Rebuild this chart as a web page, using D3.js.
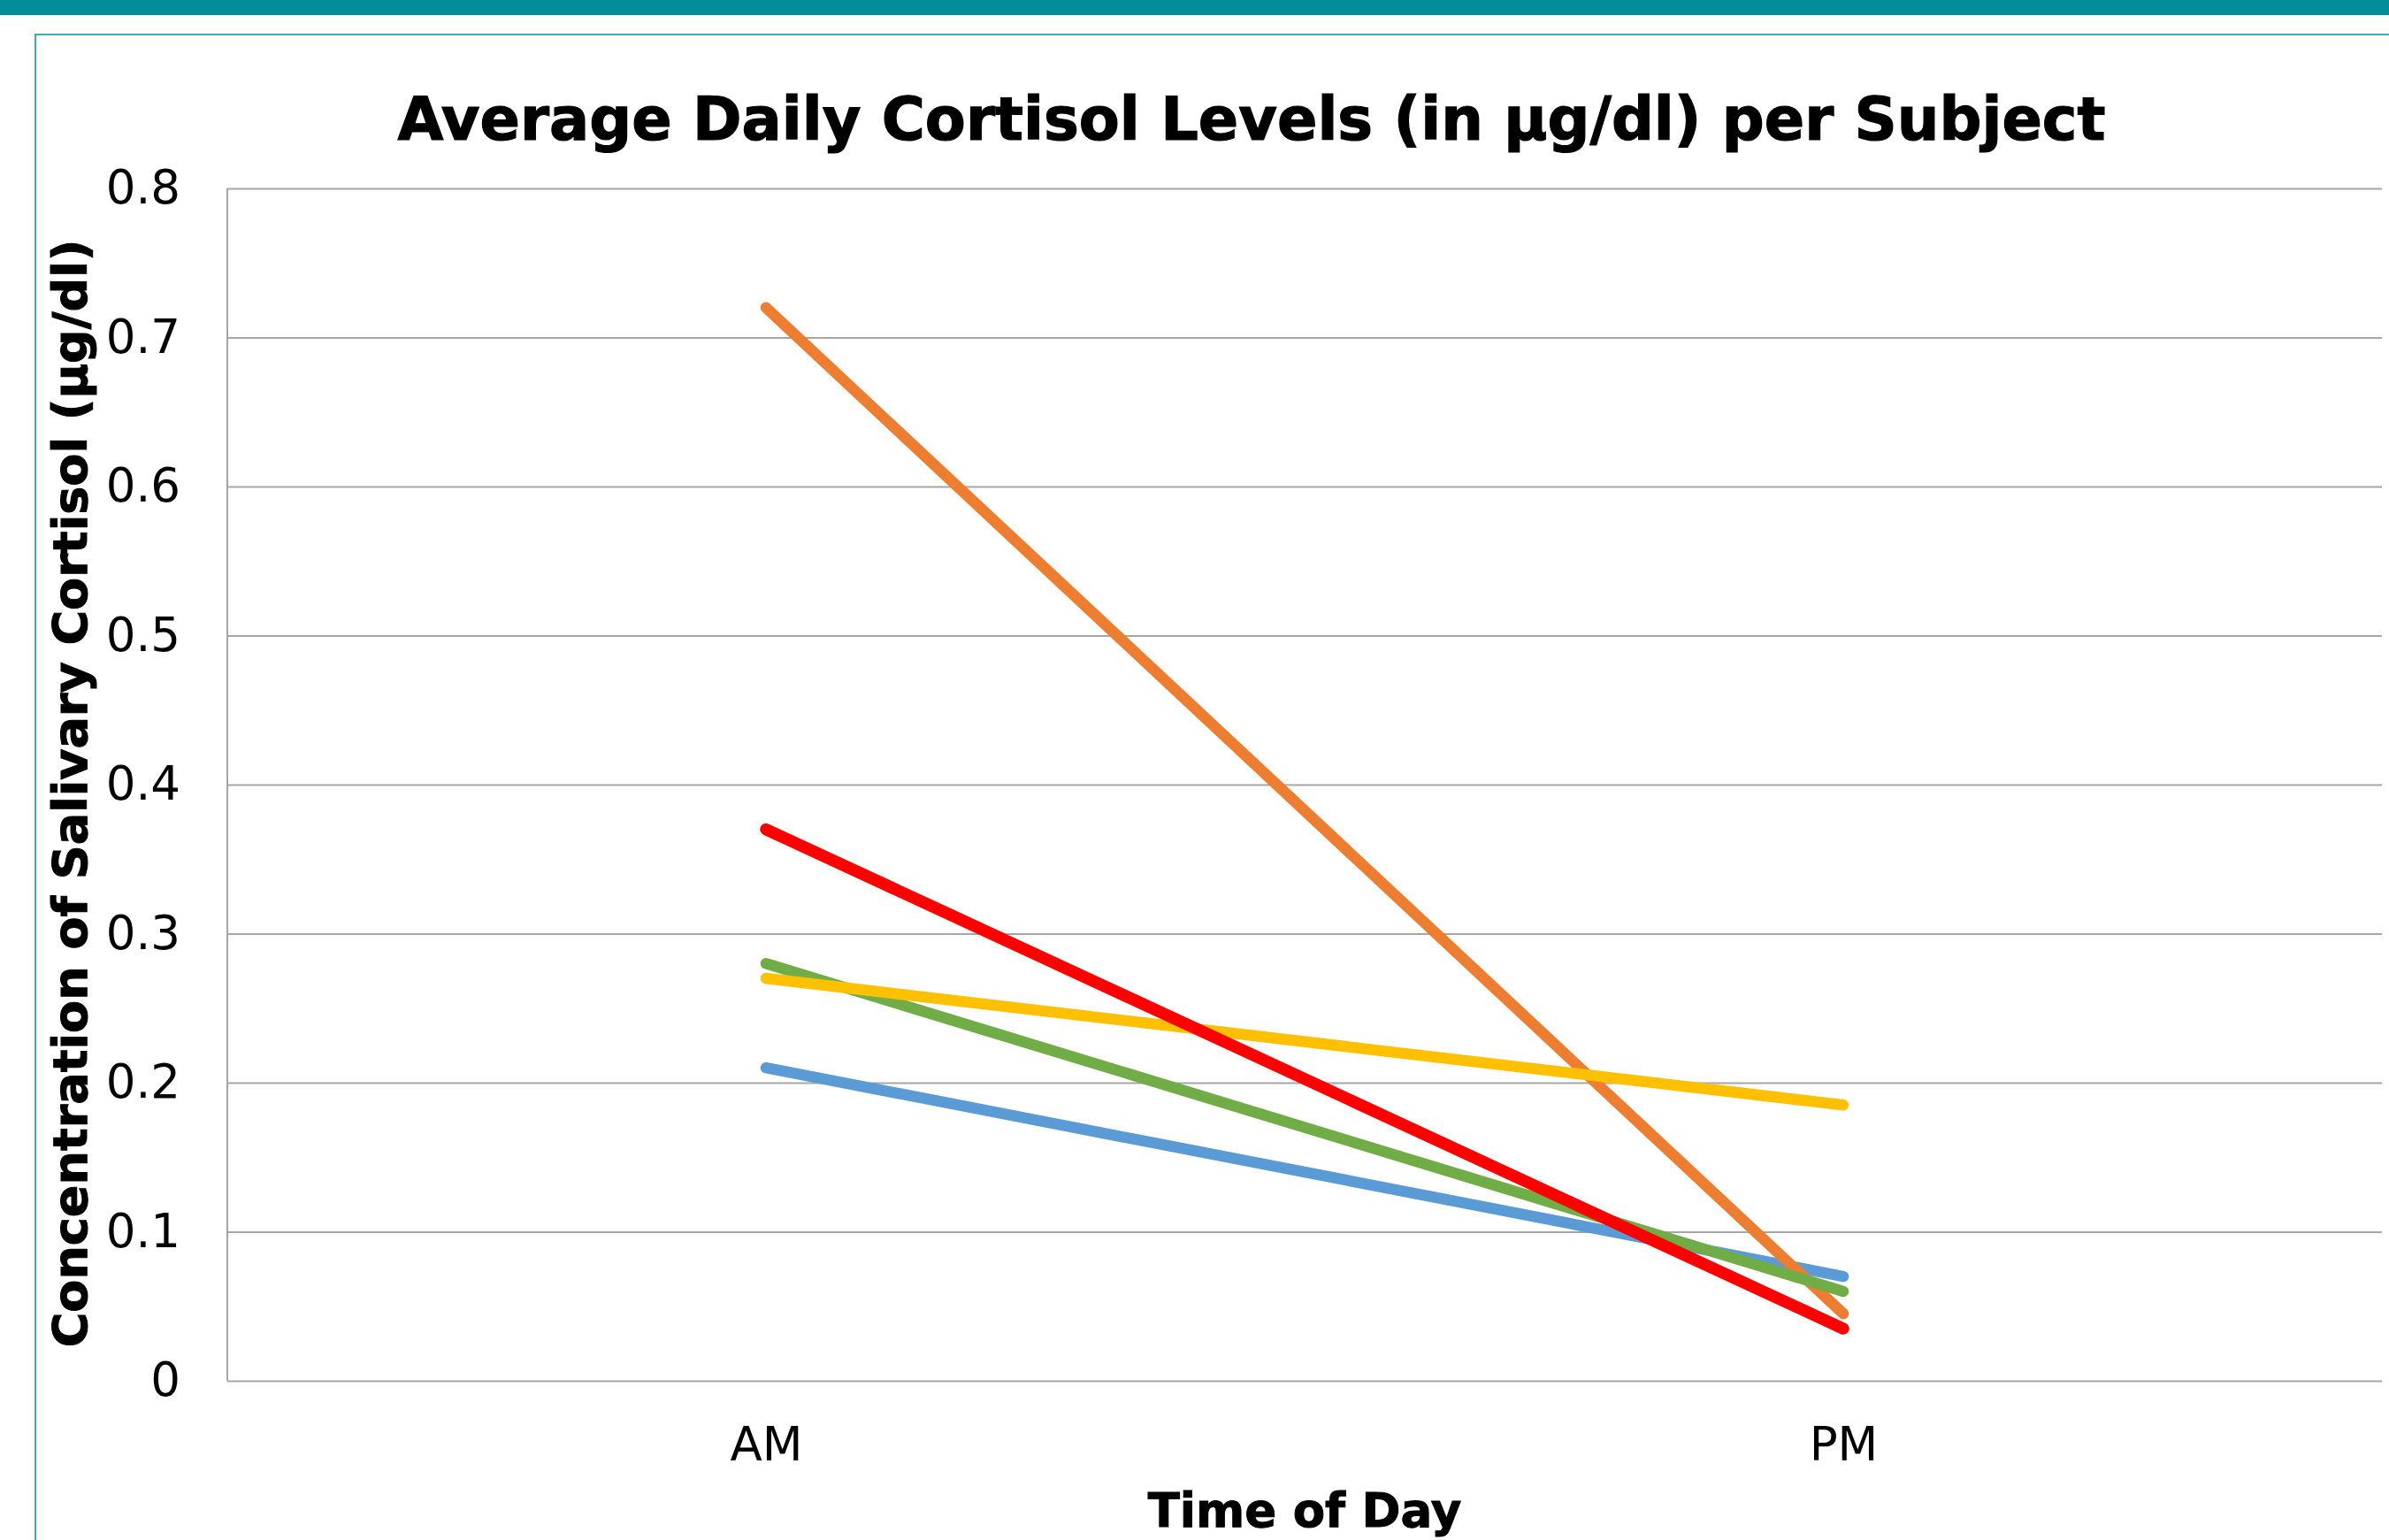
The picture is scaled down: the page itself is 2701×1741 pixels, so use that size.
<!DOCTYPE html>
<html>
<head>
<meta charset="utf-8">
<script src="https://cdn.jsdelivr.net/npm/d3@7"></script>
<style>
  body { margin: 0; background: #fff; }
  svg { display: block; font-family: "DejaVu Sans", Verdana, sans-serif; }
</style>
</head>
<body>
<div id="chart"></div>
<script>
// values
const times = ["AM", "PM"];
const subjects = ["Subject 1", "Subject 2", "Subject 3", "Subject 4", "Subject 5"];
const blueVals = [0.21, 0.07];
const orangeVals = [0.72, 0.045];
const greenVals = [0.28, 0.06];
const yellowVals = [0.27, 0.185];
const redVals = [0.37, 0.035];
const yTicks = [0, 0.1, 0.2, 0.3, 0.4, 0.5, 0.6, 0.7, 0.8];

const seriesVals = [blueVals, orangeVals, greenVals, yellowVals, redVals];
const colors = ["#5b9bd5", "#ed7d31", "#70ad47", "#ffc000", "#ff0000"];
const widths = [12.5, 12.5, 12.5, 12.5, 13.5];

const w = 2701;
const h = 1741;
const plotL = 257, plotR = 2693, plotT = 213, plotB = 1561;

const svg = d3.select("#chart")
              .append("svg")
              .attr("width", w)
              .attr("height", h);

// teal header band and frame
svg.append("rect")
   .attr("x", 0).attr("y", 0)
   .attr("width", w).attr("height", 17)
   .attr("fill", "#038c99");
svg.append("path")
   .attr("d", "M40," + (h + 5) + "V39H" + (w + 5))
   .attr("fill", "none")
   .attr("stroke", "#45a9b5")
   .attr("stroke-width", 2);

const xScale = d3.scalePoint()
                 .domain(times)
                 .range([plotL, plotR])
                 .padding(0.5);
const yScale = d3.scaleLinear()
                 .domain([0, 0.8])
                 .range([plotB, plotT]);

// gridlines + y labels
const yAxis = d3.axisLeft(yScale)
                .tickValues(yTicks)
                .tickSize(-(plotR - plotL))
                .tickPadding(53)
                .tickFormat(d => String(+d.toFixed(1)));

const gy = svg.append("g")
   .attr("transform", "translate(" + plotL + ",0)")
   .call(yAxis);
gy.select(".domain").remove();
gy.selectAll(".tick line")
  .attr("stroke", "#a6a6a6")
  .attr("stroke-width", 2);
gy.selectAll(".tick text")
  .attr("fill", "#000")
  .style("font-size", "53px")
  .style("font-family", "DejaVu Sans, Verdana, sans-serif");

// left axis line
svg.append("line")
   .attr("x1", plotL).attr("x2", plotL)
   .attr("y1", plotT).attr("y2", plotB)
   .attr("stroke", "#a6a6a6")
   .attr("stroke-width", 2);

const xAxis = d3.axisBottom(xScale)
                .tickSize(0)
                .tickPadding(52);
const gx = svg.append("g")
   .attr("transform", "translate(0," + plotB + ")")
   .call(xAxis);
gx.select(".domain").remove();
gx.selectAll(".tick text")
  .attr("fill", "#000")
  .style("font-size", "53px")
  .style("font-family", "DejaVu Sans, Verdana, sans-serif");

// lines
const line = d3.line()
               .x((d, i) => xScale(times[i]))
               .y(d => yScale(d));

svg.selectAll(".series")
   .data(seriesVals)
   .enter()
   .append("path")
   .attr("class", "series")
   .attr("d", d => line(d))
   .attr("fill", "none")
   .attr("stroke", (d, i) => colors[i])
   .attr("stroke-width", (d, i) => widths[i])
   .attr("stroke-linecap", "round")
   .attr("stroke-linejoin", "round")
   .append("title")
   .text((d, i) => subjects[i]);

// titles (thin stroke to get the heavier look of the original bold face)
svg.append("text")
   .attr("x", 1415)
   .attr("y", 158)
   .attr("text-anchor", "middle")
   .attr("stroke", "#000")
   .attr("stroke-width", 1.2)
   .style("font-size", "67px")
   .style("font-weight", "bold")
   .text("Average Daily Cortisol Levels (in µg/dl) per Subject");

svg.append("text")
   .attr("x", (plotL + plotR) / 2)
   .attr("y", 1726)
   .attr("text-anchor", "middle")
   .attr("stroke", "#000")
   .attr("stroke-width", 1)
   .style("font-size", "53px")
   .style("font-weight", "bold")
   .text("Time of Day");

svg.append("text")
   .attr("transform", "translate(98,897) rotate(-90)")
   .attr("text-anchor", "middle")
   .attr("stroke", "#000")
   .attr("stroke-width", 1)
   .style("font-size", "54px")
   .style("font-weight", "bold")
   .text("Concentration of Salivary Cortisol (µg/dl)");
</script>
</body>
</html>
